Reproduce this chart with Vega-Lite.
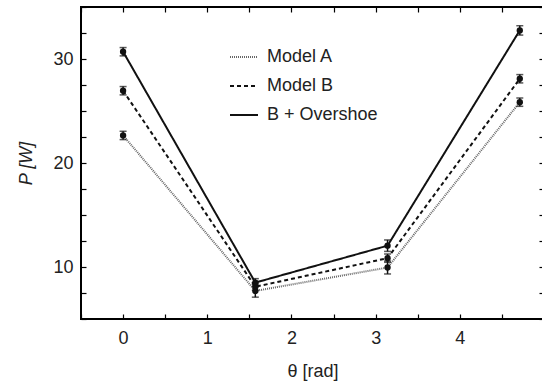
{
  "$schema": "https://vega.github.io/schema/vega-lite/v6.json",
  "width": 463,
  "height": 312,
  "autosize": {"type": "none"},
  "padding": {"top": 7, "left": 81, "right": 0, "bottom": 66},
  "background": "white",
  "config": {
    "font": "Liberation Sans",
    "view": {"stroke": "black", "strokeWidth": 2},
    "axis": {"grid": false, "domain": false, "tickColor": "black", "tickSize": -5, "tickWidth": 1.2,
             "labelOverlap": false, "labelBound": false, "labelFlush": false,
             "labelFont": "Liberation Sans", "labelFontSize": 18, "labelColor": "#222",
             "titleFont": "Liberation Sans", "titleFontSize": 18, "titleFontWeight": "normal", "titleColor": "#222"},
    "legend": {"orient": "none", "legendX": 148, "legendY": 35, "padding": 0, "title": null,
               "symbolType": "stroke", "symbolSize": 784, "symbolStrokeWidth": 2,
               "labelFont": "Liberation Sans", "labelFontSize": 18, "labelColor": "#222",
               "labelOffset": 8, "rowPadding": 5}
  },
  "data": {"values": [
    {"theta": 0, "P": 22.65, "err": 0.4, "model": "Model A"},
    {"theta": 1.5708, "P": 7.7, "err": 0.6, "model": "Model A"},
    {"theta": 3.1416, "P": 9.95, "err": 0.62, "model": "Model A"},
    {"theta": 4.7124, "P": 25.85, "err": 0.4, "model": "Model A"},
    {"theta": 0, "P": 26.95, "err": 0.4, "model": "Model B"},
    {"theta": 1.5708, "P": 8.1, "err": 0.35, "model": "Model B"},
    {"theta": 3.1416, "P": 10.85, "err": 0.4, "model": "Model B"},
    {"theta": 4.7124, "P": 28.1, "err": 0.4, "model": "Model B"},
    {"theta": 0, "P": 30.7, "err": 0.4, "model": "B + Overshoe"},
    {"theta": 1.5708, "P": 8.5, "err": 0.38, "model": "B + Overshoe"},
    {"theta": 3.1416, "P": 12.05, "err": 0.55, "model": "B + Overshoe"},
    {"theta": 4.7124, "P": 32.75, "err": 0.45, "model": "B + Overshoe"}
  ]},
  "resolve": {"axis": {"x": "independent", "y": "independent"}},
  "layer": [
    {
      "mark": {"type": "line", "strokeWidth": 2},
      "encoding": {
        "x": {"field": "theta", "type": "quantitative", "scale": {"domain": [-0.5, 5], "nice": false, "zero": false},
              "axis": {"orient": "bottom", "title": "θ [rad]", "values": [-0.5,0,0.5,1,1.5,2,2.5,3,3.5,4,4.5,5],
                       "labelExpr": "(datum.value % 1 === 0 && datum.value >= 0 && datum.value <= 4) ? format(datum.value, 'd') : ''",
                       "labelPadding": 15, "titlePadding": 15}},
        "y": {"field": "P", "type": "quantitative", "scale": {"domain": [5, 35], "nice": false, "zero": false},
              "axis": {"orient": "left", "title": "P [W]", "titleFontStyle": "italic",
                       "values": [5,7.5,10,12.5,15,17.5,20,22.5,25,27.5,30,32.5,35],
                       "labelExpr": "datum.value % 10 === 0 ? format(datum.value, 'd') : ''",
                       "labelPadding": 13, "titlePadding": 17}},
        "color": {"field": "model", "type": "nominal",
                  "scale": {"domain": ["Model A", "Model B", "B + Overshoe"], "range": ["#666666", "#111111", "#111111"]}},
        "strokeDash": {"field": "model", "type": "nominal",
                       "scale": {"domain": ["Model A", "Model B", "B + Overshoe"], "range": [[1, 1], [4, 3], [1, 0]]}}
      }
    },
    {
      "mark": {"type": "errorbar", "color": "#111111", "thickness": 1.5, "ticks": {"size": 7, "thickness": 1.5, "color": "#111111"}},
      "encoding": {
        "x": {"field": "theta", "type": "quantitative", "axis": null},
        "y": {"field": "P", "type": "quantitative", "axis": null},
        "yError": {"field": "err"}
      }
    },
    {
      "mark": {"type": "circle", "size": 40, "color": "#111111", "opacity": 1},
      "encoding": {
        "x": {"field": "theta", "type": "quantitative",
              "axis": {"orient": "top", "title": null, "labels": false, "values": [-0.5,0,0.5,1,1.5,2,2.5,3,3.5,4,4.5,5]}},
        "y": {"field": "P", "type": "quantitative",
              "axis": {"orient": "right", "title": null, "labels": false, "values": [5,7.5,10,12.5,15,17.5,20,22.5,25,27.5,30,32.5,35]}}
      }
    }
  ]
}
